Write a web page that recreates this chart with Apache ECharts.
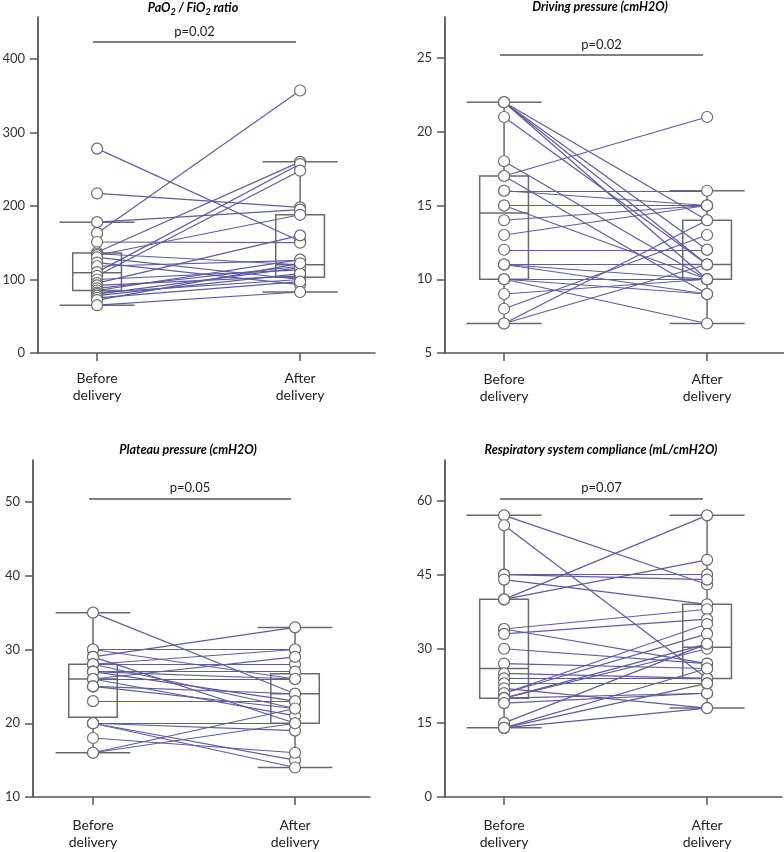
<!DOCTYPE html>
<html>
<head>
<meta charset="utf-8">
<script src="https://cdn.jsdelivr.net/npm/echarts@6/dist/echarts.min.js"></script>
<style>
  html, body { margin: 0; padding: 0; background: #fff; }
  #main { width: 784px; height: 852px; }
</style>
</head>
<body>
<div id="main"></div>
<script>
const groups = ["Before\ndelivery", "After\ndelivery"];

// PaO2 / FiO2 ratio
const pfBefore = [278, 217, 178, 163, 151, 137, 135, 133, 130, 123, 118, 110, 105, 100, 95, 92, 88, 85, 82, 80, 78, 75, 72, 65];
const pfAfter = [152, 198, 195, 357, 150, 260, 120, 188, 100, 93, 126, 257, 248, 113, 160, 105, 118, 127, 100, 116, 108, 97, 122, 83];
// [low whisker, q1, median, q3, high whisker]
const pfBox = [[65, 85, 109, 136, 178], [83, 103, 120, 188, 260]];

// Driving pressure
const dpBefore = [22, 22, 22, 22, 21, 18, 17, 17, 16, 16, 15, 15, 14, 13, 12, 11, 11, 11, 10, 10, 10, 9, 8, 7, 7];
const dpAfter = [14, 12, 11, 10, 11, 10, 21, 9, 16, 15, 15, 10, 15, 15, 12, 11, 9, 10, 10, 9, 7, 10, 13, 11, 14];
const dpBox = [[7, 10, 14.5, 17, 22], [7, 10, 11, 14, 16]];

// Plateau pressure
const ppBefore = [35, 30, 30, 29, 29, 28, 28, 28, 27, 27, 27, 26, 26, 26, 25, 25, 23, 20, 20, 20, 20, 18, 16, 16];
const ppAfter = [24, 30, 26, 33, 20, 30, 28, 22, 27, 26, 23, 26, 21, 29, 24, 22, 23, 20, 19, 15, 14, 16, 20, 22];
const ppBox = [[16, 20.8, 26, 28, 35], [14, 20, 24, 26.7, 33]];

// Respiratory system compliance
const csBefore = [57, 55, 45, 45, 44, 40, 40, 34, 34, 33, 30, 27, 25, 24, 23, 22, 21, 21, 20, 20, 20, 19, 15, 14, 14, 14];
const csAfter = [43, 24, 45, 44, 39, 57, 48, 38, 27, 36, 27, 26, 24, 24, 23, 18, 35, 33, 31, 30, 21, 21, 31, 26, 23, 18];
const csBox = [[14, 20, 26, 40, 57], [18, 24, 30.3, 39, 57]];

const pValues = ["p=0.02", "p=0.02", "p=0.05", "p=0.07"];
const yTicks = [
  [0, 100, 200, 300, 400],
  [5, 10, 15, 20, 25],
  [10, 20, 30, 40, 50],
  [0, 15, 30, 45, 60]
];

const FONT = "Lato";
const BOX_COLOR = "#6a6a6a";
const LINE_COLOR = "#5c5ca2";
const BOX_HALF = 0.12;
const CAP_HALF = 0.185;

const panels = [
  { before: pfBefore, after: pfAfter, box: pfBox, grid: { left: 38, top: 17, width: 337, height: 336 }, x: [0.709, 2.369], y: [0, 457], bracket: 423, labelMargin: 17 },
  { before: dpBefore, after: dpAfter, box: dpBox, grid: { left: 445, top: 17, width: 339, height: 336 }, x: [0.709, 2.379], y: [5, 27.78], bracket: 25.2, labelMargin: 18 },
  { before: ppBefore, after: ppAfter, box: ppBox, grid: { left: 33, top: 460, width: 337, height: 337 }, x: [0.703, 2.371], y: [10, 55.7], bracket: 50.5, labelMargin: 20 },
  { before: csBefore, after: csAfter, box: csBox, grid: { left: 445, top: 460, width: 337, height: 337 }, x: [0.709, 2.369], y: [0, 68.2], bracket: 60.4, labelMargin: 20 }
];

function renderBox(params, api) {
  const x = api.value(0);
  const lo = api.value(1), q1 = api.value(2), med = api.value(3), q3 = api.value(4), hi = api.value(5);
  const style = { stroke: BOX_COLOR, lineWidth: 1.5, fill: null };
  const tl = api.coord([x - BOX_HALF, q3]);
  const br = api.coord([x + BOX_HALF, q1]);
  const seg = (x1, y1, x2, y2) => {
    const a = api.coord([x1, y1]), b = api.coord([x2, y2]);
    return { type: "line", shape: { x1: a[0], y1: a[1], x2: b[0], y2: b[1] }, style };
  };
  return {
    type: "group",
    children: [
      { type: "rect", shape: { x: tl[0], y: tl[1], width: br[0] - tl[0], height: br[1] - tl[1] }, style },
      seg(x - BOX_HALF, med, x + BOX_HALF, med),
      seg(x, q3, x, hi),
      seg(x, q1, x, lo),
      seg(x - CAP_HALF, hi, x + CAP_HALF, hi),
      seg(x - CAP_HALF, lo, x + CAP_HALF, lo)
    ]
  };
}

const grid = [], xAxis = [], yAxis = [], series = [];
panels.forEach((p, i) => {
  grid.push(Object.assign({ containLabel: false, outerBoundsMode: "none" }, p.grid));
  xAxis.push({
    type: "value", gridIndex: i, min: p.x[0], max: p.x[1],
    splitLine: { show: false },
    axisLine: { show: true, lineStyle: { color: "#555", width: 1.5 } },
    axisTick: { show: true, customValues: [1, 2], length: 8, lineStyle: { color: "#555", width: 1.5 } },
    axisLabel: {
      customValues: [1, 2], margin: p.labelMargin,
      formatter: (v) => (v === 1 ? groups[0] : groups[1]),
      fontFamily: FONT, fontSize: 14, lineHeight: 17, color: "#222"
    }
  });
  yAxis.push({
    type: "value", gridIndex: i, min: p.y[0], max: p.y[1],
    splitLine: { show: false },
    axisLine: { show: true, lineStyle: { color: "#333", width: 1.5 } },
    axisTick: { show: true, customValues: yTicks[i], length: 8, lineStyle: { color: "#555", width: 1.5 } },
    axisLabel: { customValues: yTicks[i], margin: 13, fontFamily: FONT, fontSize: 13, color: "#333" }
  });
  series.push({
    type: "custom", xAxisIndex: i, yAxisIndex: i, z: 1, silent: true,
    renderItem: renderBox,
    data: p.box.map((b, k) => [k + 1].concat(b))
  });
  series.push({
    type: "lines", coordinateSystem: "cartesian2d", xAxisIndex: i, yAxisIndex: i, z: 2, silent: true,
    lineStyle: { color: LINE_COLOR, width: 1.2, opacity: 1, curveness: 0 },
    data: p.before.map((b, k) => ({ coords: [[1, b], [2, p.after[k]]] }))
  });
  series.push({
    type: "scatter", xAxisIndex: i, yAxisIndex: i, z: 3, silent: true,
    symbol: "circle", symbolSize: 11,
    itemStyle: { color: "#fff", borderColor: BOX_COLOR, borderWidth: 1.2, opacity: 1 },
    data: p.before.map((v) => [1, v]).concat(p.after.map((v) => [2, v])),
    markLine: {
      silent: true, symbol: "none", animation: false,
      lineStyle: { color: "#555", width: 1.5, type: "solid" },
      label: { show: true, position: "middle", formatter: pValues[i], fontFamily: FONT, fontSize: 13, color: "#222", distance: 4 },
      data: [[{ coord: [0.98, p.bracket] }, { coord: [1.98, p.bracket] }]]
    }
  });
});

const titleStyle = { fontFamily: FONT, fontSize: 12.5, fontWeight: "bold", fontStyle: "italic", color: "#111" };
function titleText(x, y, text, rich) {
  return {
    type: "text", x: x, y: y,
    style: Object.assign({ text: text, rich: rich, align: "center", verticalAlign: "middle", textAlign: "center", textVerticalAlign: "middle" }, titleStyle)
  };
}
const subRich = {
  a: Object.assign({ lineHeight: 18, verticalAlign: "middle" }, titleStyle),
  b: Object.assign({}, titleStyle, { fontSize: 9, lineHeight: 18, verticalAlign: "bottom" })
};

const chart = echarts.init(document.getElementById("main"), null, { renderer: "canvas" });
chart.setOption({
  animation: false,
  backgroundColor: "#fff",
  grid, xAxis, yAxis, series,
  graphic: [
    titleText(193, 8, "{a|PaO}{b|2}{a| / FiO}{b|2}{a| ratio}", subRich),
    titleText(600, 7, "Driving pressure (cmH2O)"),
    titleText(188, 450, "Plateau pressure (cmH2O)"),
    titleText(601, 450, "Respiratory system compliance (mL/cmH2O)")
  ]
});
</script>
</body>
</html>
